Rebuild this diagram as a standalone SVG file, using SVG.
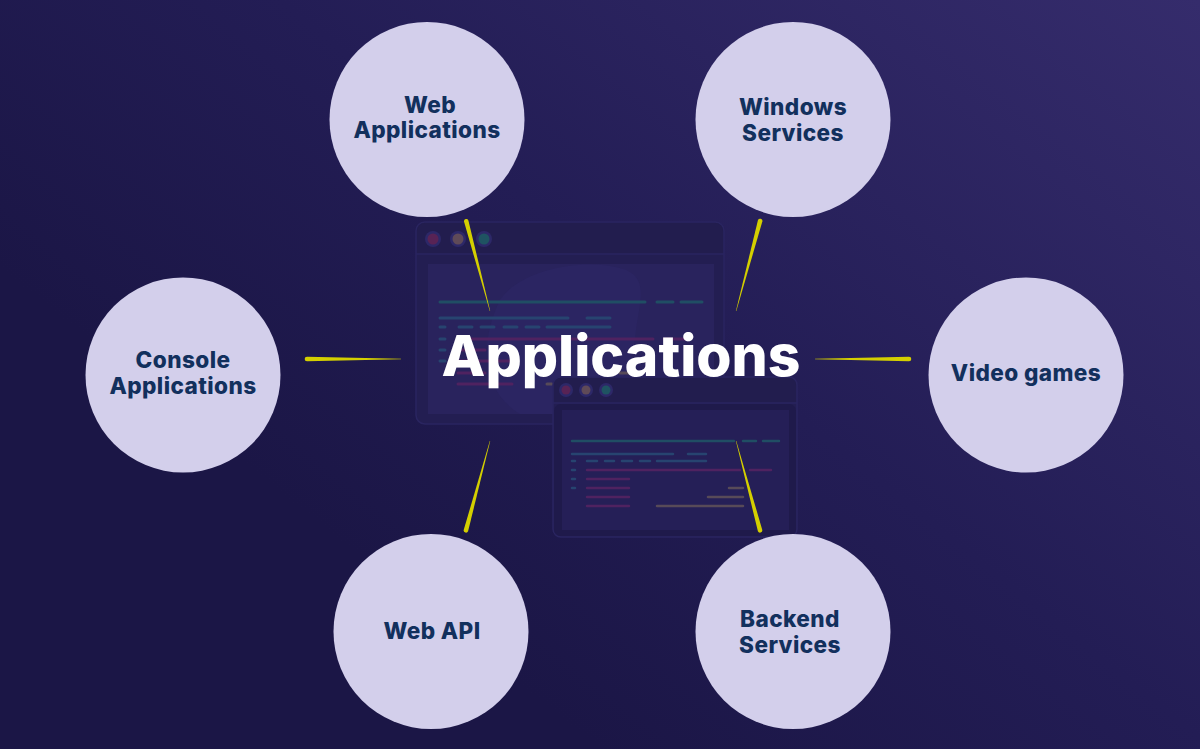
<svg xmlns="http://www.w3.org/2000/svg" width="1200" height="749" viewBox="0 0 1200 749">
<style>
.n{fill:#d3cfeb}
.t{font-family:"Inter","Liberation Sans",sans-serif;font-weight:800;font-size:22.600px;letter-spacing:.4px;fill:#12305d;text-anchor:middle}
.h{font-family:"Inter","Liberation Sans",sans-serif;font-weight:800;font-size:57px;fill:#fff;text-anchor:middle}
.win{fill:#231e52;stroke:#2a2560;stroke-width:1.500}
.bar{fill:#221d4e}
.panel{fill:#29235d}
.tl{stroke:#204e64;stroke-width:3;stroke-linecap:round;fill:none}
.bl{stroke:#274470;stroke-width:3;stroke-linecap:round;fill:none}
.rd{stroke:#4f2260;stroke-width:3;stroke-linecap:round;fill:none}
.tn{stroke:#574a58;stroke-width:3;stroke-linecap:round;fill:none}
.c{fill:#d4cf00}
</style>
<defs>
<linearGradient id="bg" gradientUnits="userSpaceOnUse" x1="1200" y1="0" x2="600" y2="749">
<stop offset="0" stop-color="#352c6c"/>
<stop offset="0.6" stop-color="#231d55"/>
<stop offset="1" stop-color="#1b1646"/>
</linearGradient>
</defs>
<rect width="1200" height="749" fill="url(#bg)"/>

<g id="window-back">
<rect class="win" x="416" y="222" width="308" height="202" rx="9"/>
<path class="bar" d="M417 254V231a8 8 0 0 1 8-8H715a8 8 0 0 1 8 8V254Z"/>
<path d="M416 254H724" stroke="#2a2560" stroke-width="1.500"/>
<rect class="panel" x="428" y="264" width="286" height="150"/>
<path d="M500 300C520 270 580 258 620 268C650 276 640 300 636 330C632 370 620 400 570 414H520C480 390 480 340 500 300Z" fill="#2b2562"/>
<circle cx="433" cy="239" r="8" fill="#2d2868"/><circle cx="433" cy="239" r="5.500" fill="#582355"/>
<circle cx="458" cy="239" r="8" fill="#2d2868"/><circle cx="458" cy="239" r="5.500" fill="#5f4a58"/>
<circle cx="484" cy="239" r="8" fill="#2d2868"/><circle cx="484" cy="239" r="5.500" fill="#1f5362"/>
<path class="tl" d="M440 302H645M657 302H673M681 302H702"/>
<path class="bl" d="M440 318H568M587 318H610M440 327H445M459 327H472M481 327H494M504 327H517M526 327H539M547 327H610M440 339H445M440 350H445M440 361H445"/>
<path class="rd" d="M470 339H653M664 339H688M458 350H485M458 361H510M458 373H485M458 384H512"/>
<path class="tn" d="M638 361H647M620 373H632M547 384H552"/>
</g>

<g id="window-front">
<rect class="win" x="553" y="377" width="244" height="160" rx="8"/>
<path class="bar" d="M554 403V385a7 7 0 0 1 7-7H789a7 7 0 0 1 7 7V403Z"/>
<path d="M553 403H797" stroke="#2a2560" stroke-width="1.500"/>
<rect x="554" y="404" width="242" height="132" rx="7" fill="#1f1a4b"/>
<rect x="562" y="410" width="227" height="120" fill="#251f57"/>
<circle cx="566" cy="390" r="7" fill="#2d2868"/><circle cx="566" cy="390" r="4.500" fill="#582355"/>
<circle cx="586" cy="390" r="7" fill="#2d2868"/><circle cx="586" cy="390" r="4.500" fill="#5f4a58"/>
<circle cx="606" cy="390" r="7" fill="#2d2868"/><circle cx="606" cy="390" r="4.500" fill="#1f5362"/>
<path class="tl" style="stroke-width:2.500" d="M572 441H734M743 441H756M763 441H779"/>
<path class="bl" style="stroke-width:2.500" d="M572 454H673M688 454H706M572 461H575M587 461H597M605 461H614M622 461H632M640 461H650M657 461H706M572 470H575M572 479H575M572 488H575"/>
<path class="rd" style="stroke-width:2.500" d="M587 470H740M750 470H771M587 479H629M587 488H629M587 497H629M587 506H629"/>
<path class="tn" style="stroke-width:2.500" d="M729 488H743M708 497H743M657 506H743"/>
</g>

<g id="connectors">
<path class="c" d="M464 221.600A2.300 2.300 0 0 1 468.400 220.400L490.200 311L489.800 311.100Z"/>
<path class="c" d="M762.400 221.300A2.300 2.300 0 0 0 758 220.100L735.900 311L736.300 311.100Z"/>
<path class="c" d="M307 356.700A2.300 2.300 0 0 0 307 361.300L401 359.200V358.800Z"/>
<path class="c" d="M909 356.700A2.300 2.300 0 0 1 909 361.300L815 359.200V358.800Z"/>
<path class="c" d="M463.700 530A2.300 2.300 0 0 0 468.100 531.200L490.200 441L489.800 440.900Z"/>
<path class="c" d="M762.300 530A2.300 2.300 0 0 1 757.900 531.200L735.900 441L736.300 440.900Z"/>
</g>

<g id="node-center"><text class="h" x="621" y="376">Applications</text></g>
<g id="node-web-applications"><circle class="n" cx="427" cy="119.500" r="97.500"/><text class="t" x="430" y="113">Web</text><text class="t" x="427" y="138">Applications</text></g>
<g id="node-windows-services"><circle class="n" cx="793" cy="119.500" r="97.500"/><text class="t" x="793" y="115">Windows</text><text class="t" x="793" y="141">Services</text></g>
<g id="node-console-applications"><circle class="n" cx="183" cy="375" r="97.500"/><text class="t" x="183" y="368">Console</text><text class="t" x="183" y="394">Applications</text></g>
<g id="node-video-games"><circle class="n" cx="1026" cy="375" r="97.500"/><text class="t" x="1026" y="381">Video games</text></g>
<g id="node-web-api"><circle class="n" cx="431" cy="631.500" r="97.500"/><text class="t" x="432" y="639">Web API</text></g>
<g id="node-backend-services"><circle class="n" cx="793" cy="631.500" r="97.500"/><text class="t" x="790" y="627">Backend</text><text class="t" x="790" y="653">Services</text></g>
</svg>
